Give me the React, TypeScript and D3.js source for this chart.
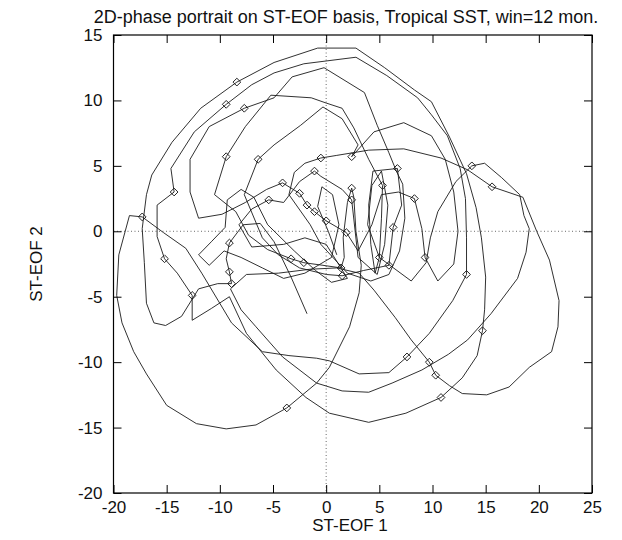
import React, { useRef, useEffect } from 'react';
import * as d3 from 'd3';

const title = '2D-phase portrait on ST-EOF basis, Tropical SST, win=12 mon.';
const xLabel = 'ST-EOF 1';
const yLabel = 'ST-EOF 2';

const xTicks = [-20, -15, -10, -5, 0, 5, 10, 15, 20, 25];
const yTicks = [-20, -15, -10, -5, 0, 5, 10, 15];

// phase trajectory (ST-EOF 1, ST-EOF 2)
const trajectory: [number, number][] = [
  [-1.8, -6.3], [-3.3, -3.5], [-4.9, -0.8], [-6.2, 0.6], [-7.8, 0.5], [-9.1, -0.9], [-9.4, -2.1], [-9.1, -3.1], [-8.9, -4.0],
  [-10.2, -4.0], [-12.0, -4.4], [-13.6, -6.5], [-15.1, -7.2], [-16.2, -7.0], [-16.9, -5.5], [-17.1, -2.4], [-17.3, 0.2], [-16.9, 2.8], [-16.4, 4.3],
  [-14.5, 6.8], [-11.8, 9.4], [-8.4, 11.4], [-4.9, 12.9], [-0.8, 14.0], [2.8, 14.0], [5.5, 12.5], [8.3, 10.8], [9.9, 9.9], [11.6, 7.2],
  [13.2, 4.4], [14.1, 1.8], [14.6, -0.5], [15.0, -3.5], [14.9, -6.0], [14.7, -7.6], [14.2, -9.5], [12.8, -11.2], [10.8, -12.7], [7.5, -13.9],
  [4.0, -14.6], [0.3, -13.9], [-1.9, -12.7], [-4.7, -10.6], [-7.5, -7.8], [-9.1, -5.0],
  [-10.8, -5.9], [-12.6, -6.8], [-12.6, -4.9], [-14.0, -3.2], [-15.2, -2.1], [-15.9, -0.4], [-15.9, 2.0], [-14.3, 3.0],
  [-14.6, 4.8], [-12.4, 7.6], [-9.4, 9.7], [-7.0, 11.2], [-4.9, 12.1], [-2.1, 12.8], [2.8, 13.3], [5.7, 11.9], [8.6, 10.2], [9.9, 8.9],
  [11.4, 7.3], [12.6, 4.8], [13.1, 2.5], [13.2, -0.5], [13.2, -3.3], [11.9, -5.3], [9.7, -7.8], [7.6, -9.6], [5.9, -10.8], [3.1, -10.9],
  [0.3, -9.9], [-0.9, -9.7], [-3.5, -9.5], [-6.0, -9.2], [-8.9, -7.0], [-11.7, -3.2], [-13.2, -1.3], [-15.3, -0.1], [-17.3, 1.1],
  [-18.5, 1.2], [-19.5, -1.8], [-19.7, -4.9], [-19.2, -7.0], [-18.1, -9.2], [-16.9, -10.9], [-15.0, -13.3], [-12.2, -14.7], [-9.4, -15.1],
  [-6.6, -14.8], [-3.7, -13.5], [-0.9, -11.6], [0.3, -10.4], [2.2, -7.3], [3.1, -4.7], [3.3, -2.6],
  [2.8, 0.0], [2.6, 2.6], [2.4, 3.3], [2.0, 2.2], [1.6, -0.5], [1.7, -2.0], [1.4, -2.8], [-0.3, -2.6], [-2.1, -2.4], [-3.3, -2.1],
  [-5.5, -1.4], [-7.3, -0.3], [-8.5, 1.5],
  [-10.5, 2.8], [-9.4, 5.7], [-7.6, 8.0], [-5.2, 10.4], [-1.4, 10.2], [0.0, 9.8], [1.5, 9.4], [2.6, 7.9], [4.0, 5.5], [5.3, 3.5],
  [5.2, 1.0], [5.0, -2.0], [4.6, -3.2], [4.2, -1.0], [4.0, 2.0], [4.4, 4.6],
  [6.7, 4.8], [7.1, 2.0], [6.3, 0.3], [5.9, -2.6], [3.5, -3.0], [1.5, -3.4], [0.0, -3.3], [-2.5, -2.8], [-4.5, -1.8], [-6.0, -0.5],
  [-7.7, 2.8], [-6.4, 5.5], [-4.9, 6.6], [-2.4, 8.1], [-0.3, 9.5], [1.5, 8.6], [3.0, 6.6], [2.4, 5.7], [4.5, 7.6], [7.3, 8.3],
  [9.9, 7.3], [11.2, 5.5], [12.0, 3.0], [12.4, 0.0], [12.0, -2.5], [10.5, -3.8], [9.3, -2.0], [9.0, 0.2], [8.3, 2.5], [6.8, 3.0],
  [5.2, 2.8], [4.3, 0.5], [3.0, -1.5], [1.9, -0.1], [0.0, 0.8], [-1.1, 1.5], [-1.8, 2.0], [-2.5, 2.9], [-4.1, 3.7], [-5.6, 3.2],
  [-7.6, 2.2], [-9.8, 1.3], [-12.0, 1.0], [-12.8, 3.0], [-12.8, 5.5], [-11.0, 8.0], [-7.7, 9.4], [-4.9, 10.2], [-3.2, 11.8], [-0.2, 12.5],
  [3.6, 10.6], [4.8, 8.1], [5.9, 6.0], [6.6, 4.6], [7.2, 3.6], [7.4, 1.0], [6.9, -1.5], [5.9, -3.3], [4.2, -3.8], [2.0, -3.2],
  [-0.5, -1.0], [-1.5, 0.5], [-3.5, 2.8], [-3.0, 4.5], [-2.0, 5.2], [-0.5, 5.6], [1.0, 5.8], [4.0, 6.2], [7.3, 6.3], [10.8, 5.6],
  [13.3, 4.7], [15.6, 3.4], [18.5, 2.6], [19.8, 0.0], [21.0, -2.2], [21.9, -5.3], [21.8, -7.3], [21.2, -9.2], [19.1, -10.4], [17.2, -11.9],
  [15.1, -12.5], [12.8, -12.4], [11.6, -11.8], [10.3, -11.0], [9.7, -10.0], [8.0, -8.3], [6.5, -6.6], [4.5, -4.5], [3.1, -3.2], [1.0, -2.8],
  [-1.5, -2.9], [-4.5, -3.2], [-7.5, -3.3], [-9.0, -4.4], [-8.0, -6.0], [-6.6, -7.3], [-4.1, -9.6], [-0.9, -11.6], [1.5, -12.2], [4.0, -12.3],
  [6.2, -11.6], [9.0, -10.6], [11.5, -9.4], [13.3, -8.3], [15.5, -6.3], [18.0, -3.6], [18.8, -1.6], [19.1, 0.2], [18.6, 1.2], [18.2, 2.8],
  [16.5, 4.1], [14.9, 5.2], [13.7, 5.0], [12.2, 3.8], [10.5, 1.5], [9.8, -0.5], [9.4, -2.4], [8.0, -3.8], [5.0, -2.0], [3.9, 0.5],
  [4.3, 3.5], [5.2, 4.6], [5.8, 2.0], [5.5, -1.0], [4.8, -3.3], [3.0, -2.0], [2.4, 2.4], [1.5, 3.2], [-0.5, 4.2], [-1.1, 4.6],
  [-2.5, 3.8], [-4.0, 2.2], [-5.4, 2.4], [-7.0, 1.7], [-8.2, 0.5], [-7.0, -1.2], [-4.0, -1.0], [-2.0, -0.5], [0.0, -1.0], [2.0, -3.6],
  [0.5, -3.9], [-1.0, -3.0], [-3.0, -1.5], [-5.5, 0.5], [-6.8, 2.6], [-8.0, 3.2], [-9.3, 2.4], [-9.5, 0.3], [-10.8, -0.8], [-12.0, -1.8],
  [-11.0, -2.6], [-9.6, -1.5], [-8.0, -2.0], [-6.0, -2.8], [-4.0, -3.6], [-2.0, -3.2], [0.5, -2.0], [1.2, 0.5], [0.6, 2.8], [-0.4, 3.4],
  [-0.8, 1.9], [0.2, 0.0], [1.0, -1.8],
];

// positions of the diamond markers along the trajectory
const diamonds: [number, number][] = [
  [-9.1, -0.9], [-9.1, -3.1], [-8.9, -4.0], [-8.4, 11.4], [14.7, -7.6], [10.8, -12.7], [-12.6, -4.9], [-15.2, -2.1],
  [-14.3, 3.0], [-9.4, 9.7], [13.2, -3.3], [7.6, -9.6], [-17.3, 1.1], [-3.7, -13.5], [2.4, 3.3], [1.4, -2.8],
  [-2.1, -2.4], [-3.3, -2.1], [-9.4, 5.7], [5.3, 3.5], [6.7, 4.8], [6.3, 0.3], [5.9, -2.6], [1.5, -3.4],
  [-6.4, 5.5], [2.4, 5.7], [9.3, -2.0], [8.3, 2.5], [1.9, -0.1], [0.0, 0.8], [-1.1, 1.5], [-1.8, 2.0],
  [-2.5, 2.9], [-4.1, 3.7], [-7.7, 9.4], [-0.5, 5.6], [15.6, 3.4], [10.3, -11.0], [9.7, -10.0], [13.7, 5.0],
  [5.0, -2.0], [2.4, 2.4], [-1.1, 4.6], [-5.4, 2.4],
];

const PhasePortrait = () => {
  const svgRef = useRef<SVGSVGElement>(null);

  useEffect(() => {
    const svg = d3.select(svgRef.current);
    svg.selectAll('*').remove(); // Clear previous contents

    const margin = { top: 35, right: 30, bottom: 47, left: 113.5 };
    const width = 622 - margin.left - margin.right;
    const height = 540 - margin.top - margin.bottom;
    const font = '"Liberation Sans", Arial, Helvetica, sans-serif';

    const x = d3.scaleLinear().domain([-20, 25]).range([0, width]);
    const y = d3.scaleLinear().domain([-20, 15]).range([height, 0]);

    svg.append('rect').attr('width', 622).attr('height', 540).attr('fill', '#fff');

    svg.append('text')
      .attr('x', 346)
      .attr('y', 23)
      .attr('text-anchor', 'middle')
      .attr('font-family', font)
      .attr('font-size', 18)
      .attr('fill', '#111')
      .text(title);

    const g = svg.append('g').attr('transform', `translate(${margin.left},${margin.top})`);

    // zero lines
    g.append('line')
      .attr('x1', x(0)).attr('x2', x(0))
      .attr('y1', 0).attr('y2', height)
      .attr('stroke', '#444').attr('stroke-width', 0.8).attr('stroke-dasharray', '1,2.5');
    g.append('line')
      .attr('x1', 0).attr('x2', width)
      .attr('y1', y(0)).attr('y2', y(0))
      .attr('stroke', '#444').attr('stroke-width', 0.8).attr('stroke-dasharray', '1,2.5');

    // trajectory
    const line = d3.line<[number, number]>()
      .x(d => x(d[0]))
      .y(d => y(d[1]));

    g.append('path')
      .datum(trajectory)
      .attr('d', line)
      .attr('fill', 'none')
      .attr('stroke', '#1a1a1a')
      .attr('stroke-width', 0.9)
      .attr('stroke-linejoin', 'round');

    const diamond = d3.symbol().type(d3.symbolSquare).size(30);
    g.append('g')
      .selectAll('path')
      .data(diamonds)
      .enter().append('path')
      .attr('d', diamond)
      .attr('transform', d => `translate(${x(d[0])},${y(d[1])}) rotate(45)`)
      .attr('fill', 'none')
      .attr('stroke', '#1a1a1a')
      .attr('stroke-width', 0.9);

    // axes: inward ticks on all four sides, plain hyphen minus
    const fmt = (d: d3.NumberValue) => String(d);
    const styleAxis = (sel: d3.Selection<SVGGElement, unknown, null, undefined>) => {
      sel.select('.domain').remove();
      sel.selectAll('line').attr('stroke', '#000').attr('stroke-width', 1);
      sel.selectAll('text').attr('font-family', font).attr('font-size', 17).attr('fill', '#111');
    };

    g.append('g')
      .attr('transform', `translate(0,${height})`)
      .call(d3.axisBottom(x).tickValues(xTicks).tickSize(-8).tickPadding(8).tickFormat(fmt))
      .call(styleAxis);

    g.append('g')
      .call(d3.axisLeft(y).tickValues(yTicks).tickSize(-8).tickPadding(11).tickFormat(fmt))
      .call(styleAxis);

    g.append('g')
      .call(d3.axisTop(x).tickValues(xTicks).tickSize(-8).tickFormat(() => ''))
      .call(styleAxis);

    g.append('g')
      .attr('transform', `translate(${width},0)`)
      .call(d3.axisRight(y).tickValues(yTicks).tickSize(-8).tickFormat(() => ''))
      .call(styleAxis);

    g.append('rect')
      .attr('width', width)
      .attr('height', height)
      .attr('fill', 'none')
      .attr('stroke', '#000')
      .attr('stroke-width', 1.2);

    svg.append('text')
      .attr('x', 350)
      .attr('y', 531)
      .attr('text-anchor', 'middle')
      .attr('font-family', font)
      .attr('font-size', 17)
      .attr('fill', '#111')
      .text(xLabel);

    svg.append('text')
      .attr('transform', `translate(42,${margin.top + height / 2}) rotate(-90)`)
      .attr('text-anchor', 'middle')
      .attr('font-family', font)
      .attr('font-size', 17)
      .attr('fill', '#111')
      .text(yLabel);
  }, []);

  return (
    <svg
      ref={svgRef}
      width={622}
      height={540}
      style={{ position: 'absolute', left: 0, top: 0, display: 'block' }}
    />
  );
};

export default function App() {
  return <PhasePortrait />;
}
